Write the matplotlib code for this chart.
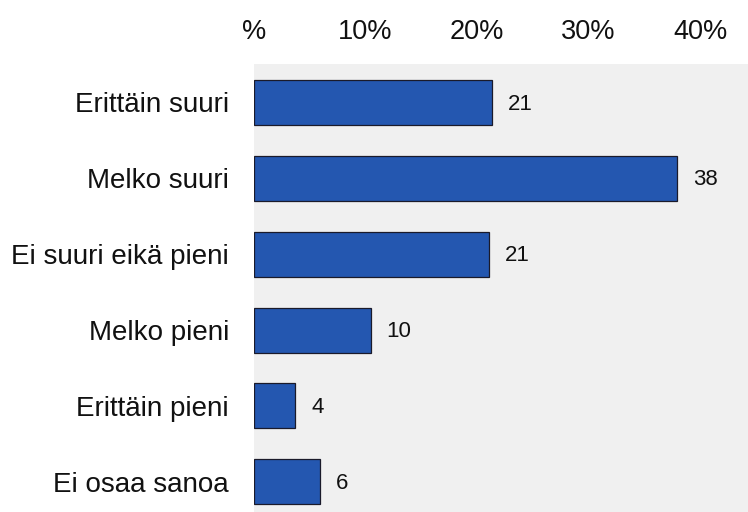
import matplotlib
matplotlib.use("Agg")
import matplotlib.pyplot as plt

categories = ["Erittäin suuri", "Melko suuri", "Ei suuri eikä pieni",
              "Melko pieni", "Erittäin pieni", "Ei osaa sanoa"]
values = [21.3, 37.95, 21.05, 10.45, 3.7, 5.9]
xticks = [0, 10, 20, 30, 40]
xtick_labels = ["%", "10%", "20%", "30%", "40%"]

plt.rcParams['font.family'] = ['Liberation Sans', 'DejaVu Sans']

fig = plt.figure(figsize=(7.48, 5.12), dpi=100)
ax = fig.add_axes([254/748, 0.0, 1 - 254/748, 1 - 64/512])
ax.set_facecolor("#F0F0F0")

ypos = list(range(len(categories)))
ax.barh(ypos, values, height=0.593, color="#2457B0", edgecolor="#1A1A2A", linewidth=0.9)

for y, v in zip(ypos, values):
    ax.annotate(f"{v:.0f}", xy=(v, y), xytext=(11.5, -1.2), textcoords="offset points",
                va="center", ha="left", fontsize=16, color="#111111")

ax.set_xlim(0, 44.3)
ax.set_ylim(5 + 0.398, -0.507)
ax.set_yticks(ypos)
ax.set_yticklabels(categories, fontsize=20)
ax.xaxis.tick_top()
ax.set_xticks(xticks)
ax.set_xticklabels(xtick_labels, fontsize=19.5)
ax.tick_params(axis="both", length=0, colors="#111111")
ax.tick_params(axis="x", pad=14)
ax.tick_params(axis="y", pad=18)
for s in ax.spines.values():
    s.set_visible(False)

fig.savefig("out.png", dpi=100)
